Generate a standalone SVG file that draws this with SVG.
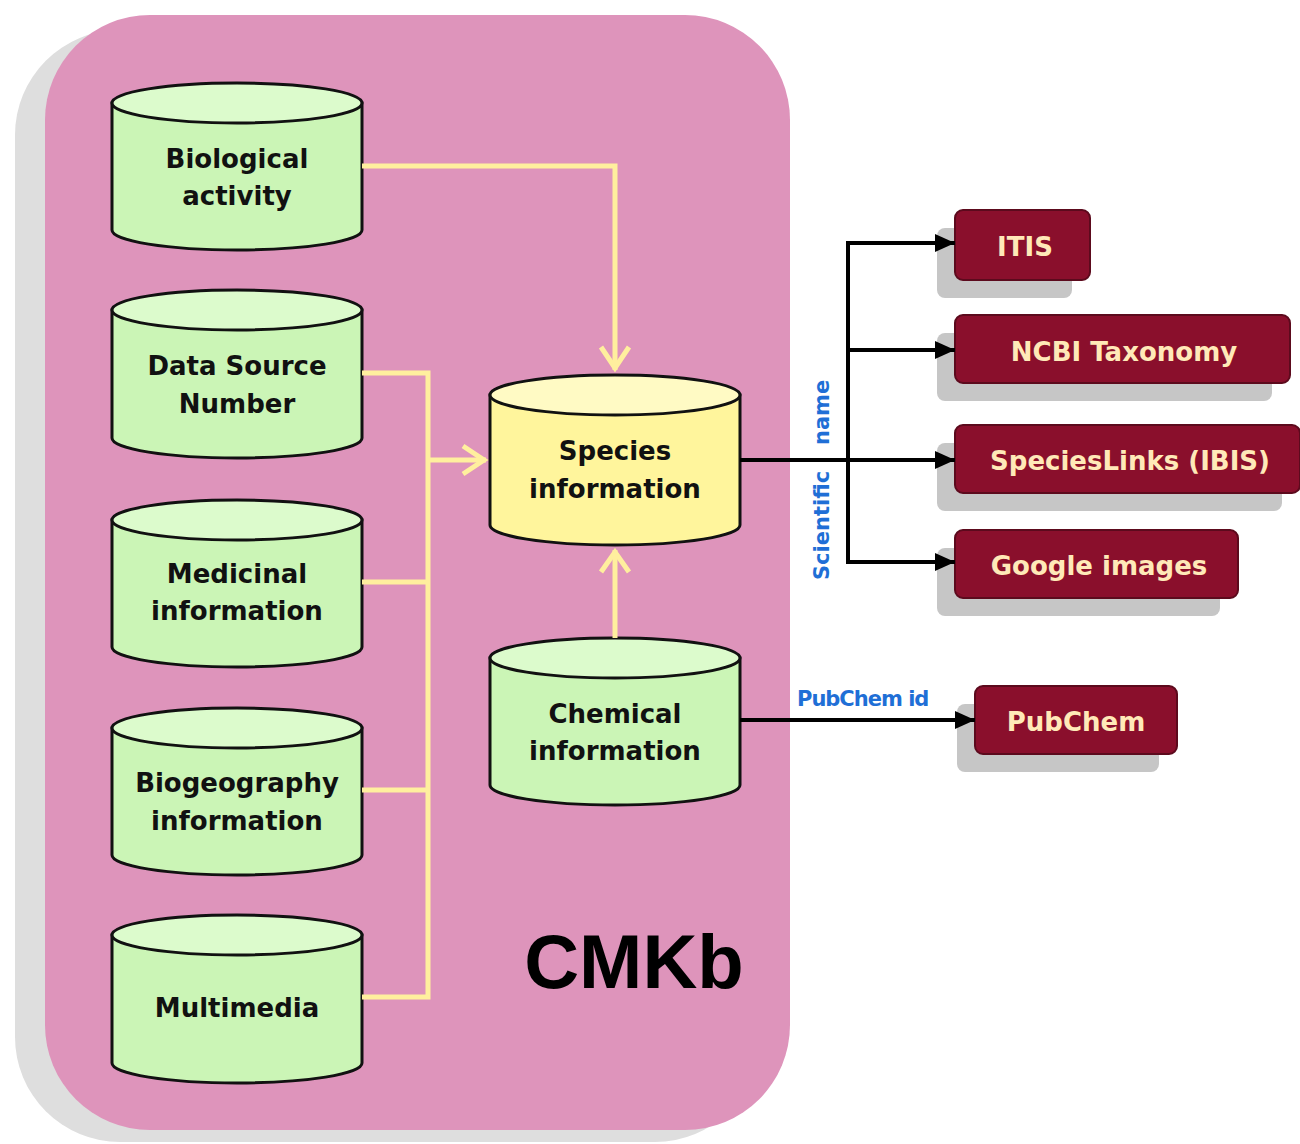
<svg xmlns="http://www.w3.org/2000/svg" width="1300" height="1144" viewBox="0 0 1300 1144">
<style>
.cyl path,.cyl ellipse{stroke:#111;stroke-width:3}
.g .body{fill:#cbf5b6}
.g .top{fill:#dcfbcc}
.y .body{fill:#fff59c}
.y .top{fill:#fffac4}
.ct{font-family:"DejaVu Sans",sans-serif;font-weight:bold;font-size:26px;fill:#111;text-anchor:middle;stroke:none}
.box{fill:#8a0f2c;stroke:#5c0a1d;stroke-width:2}
.sh{fill:#c6c6c6}
.bt{font-family:"DejaVu Sans",sans-serif;font-weight:bold;font-size:26px;fill:#ffe9b8;text-anchor:middle}
.yl{fill:none;stroke:#ffef9e;stroke-width:5}
.bl{fill:none;stroke:#000;stroke-width:4}
.lab{font-family:"DejaVu Sans",sans-serif;font-weight:bold;font-size:21px;fill:#1f6fd6}
</style>
<defs>
<marker id="ah" markerWidth="22" markerHeight="22" refX="20" refY="11" orient="auto" markerUnits="userSpaceOnUse">
<path d="M0,2 L20,11 L0,20 Z" fill="#000"/>
</marker>
</defs>
<rect x="0" y="0" width="1300" height="1144" fill="#fff"/>
<g id="cmkb">
<rect x="15" y="30" width="745" height="1112" rx="105" fill="#dedede"/>
<rect x="45" y="15" width="745" height="1115" rx="105" fill="#de94bb"/>
<text x="634" y="988" font-family="Liberation Sans,Arial,sans-serif" font-weight="bold" font-size="76" text-anchor="middle" fill="#000">CMKb</text>
</g>
<g id="bio" class="cyl g">
<path class="body" d="M112,103 V230 A125,20 0 0 0 362,230 V103 Z"/>
<ellipse class="top" cx="237" cy="103" rx="125" ry="20"/>
<text class="ct" x="237" y="168">Biological</text>
<text class="ct" x="237" y="205">activity</text>
</g>
<g id="dsn" class="cyl g">
<path class="body" d="M112,310 V438 A125,20 0 0 0 362,438 V310 Z"/>
<ellipse class="top" cx="237" cy="310" rx="125" ry="20"/>
<text class="ct" x="237" y="375">Data Source</text>
<text class="ct" x="237" y="413">Number</text>
</g>
<g id="med" class="cyl g">
<path class="body" d="M112,520 V647 A125,20 0 0 0 362,647 V520 Z"/>
<ellipse class="top" cx="237" cy="520" rx="125" ry="20"/>
<text class="ct" x="237" y="583">Medicinal</text>
<text class="ct" x="237" y="620">information</text>
</g>
<g id="biogeo" class="cyl g">
<path class="body" d="M112,728 V855 A125,20 0 0 0 362,855 V728 Z"/>
<ellipse class="top" cx="237" cy="728" rx="125" ry="20"/>
<text class="ct" x="237" y="792">Biogeography</text>
<text class="ct" x="237" y="830">information</text>
</g>
<g id="multi" class="cyl g">
<path class="body" d="M112,935 V1063 A125,20 0 0 0 362,1063 V935 Z"/>
<ellipse class="top" cx="237" cy="935" rx="125" ry="20"/>
<text class="ct" x="237" y="1017">Multimedia</text>
</g>
<g id="species" class="cyl y">
<path class="body" d="M490,395 V525 A125,20 0 0 0 740,525 V395 Z"/>
<ellipse class="top" cx="615" cy="395" rx="125" ry="20"/>
<text class="ct" x="615" y="460">Species</text>
<text class="ct" x="615" y="498">information</text>
</g>
<g id="chem" class="cyl g">
<path class="body" d="M490,658 V785 A125,20 0 0 0 740,785 V658 Z"/>
<ellipse class="top" cx="615" cy="658" rx="125" ry="20"/>
<text class="ct" x="615" y="723">Chemical</text>
<text class="ct" x="615" y="760">information</text>
</g>
<g id="itis">
<rect class="sh" x="937" y="228" width="135" height="70" rx="8"/>
<rect class="box" x="955" y="210" width="135" height="70" rx="8"/>
<text class="bt" x="1025" y="256">ITIS</text>
</g>
<g id="ncbi">
<rect class="sh" x="937" y="333" width="335" height="68" rx="8"/>
<rect class="box" x="955" y="315" width="335" height="68" rx="8"/>
<text class="bt" x="1124" y="361">NCBI Taxonomy</text>
</g>
<g id="specieslinks">
<rect class="sh" x="937" y="443" width="345" height="68" rx="8"/>
<rect class="box" x="955" y="425" width="345" height="68" rx="8"/>
<text class="bt" x="1130" y="470">SpeciesLinks (IBIS)</text>
</g>
<g id="google">
<rect class="sh" x="937" y="548" width="283" height="68" rx="8"/>
<rect class="box" x="955" y="530" width="283" height="68" rx="8"/>
<text class="bt" x="1099" y="575">Google images</text>
</g>
<g id="pubchem">
<rect class="sh" x="957" y="704" width="202" height="68" rx="8"/>
<rect class="box" x="975" y="686" width="202" height="68" rx="8"/>
<text class="bt" x="1076" y="731">PubChem</text>
</g>
<g id="connectors">
<polyline class="yl" points="362,166 615,166 615,370"/>
<polyline class="yl" points="601,347 615,368 629,347"/>
<polyline class="yl" points="362,373 428,373 428,997 362,997"/>
<line class="yl" x1="362" y1="582" x2="428" y2="582"/>
<line class="yl" x1="362" y1="790" x2="428" y2="790"/>
<line class="yl" x1="428" y1="460" x2="486" y2="460"/>
<polyline class="yl" points="463,446 484,460 463,474"/>
<line class="yl" x1="615" y1="638" x2="615" y2="550"/>
<polyline class="yl" points="601,572 615,552 629,572"/>
<line class="bl" x1="740" y1="460" x2="848" y2="460"/>
<line class="bl" x1="848" y1="243" x2="848" y2="562"/>
<line class="bl" x1="846" y1="243" x2="955" y2="243" marker-end="url(#ah)"/>
<line class="bl" x1="846" y1="350" x2="955" y2="350" marker-end="url(#ah)"/>
<line class="bl" x1="846" y1="460" x2="955" y2="460" marker-end="url(#ah)"/>
<line class="bl" x1="846" y1="562" x2="955" y2="562" marker-end="url(#ah)"/>
<line class="bl" x1="740" y1="720" x2="975" y2="720" marker-end="url(#ah)"/>
<text class="lab" transform="translate(829,580) rotate(-90)">Scientific</text>
<text class="lab" transform="translate(829,445) rotate(-90)">name</text>
<text class="lab" x="797" y="706" letter-spacing="-1">PubChem id</text>
</g>
</svg>
